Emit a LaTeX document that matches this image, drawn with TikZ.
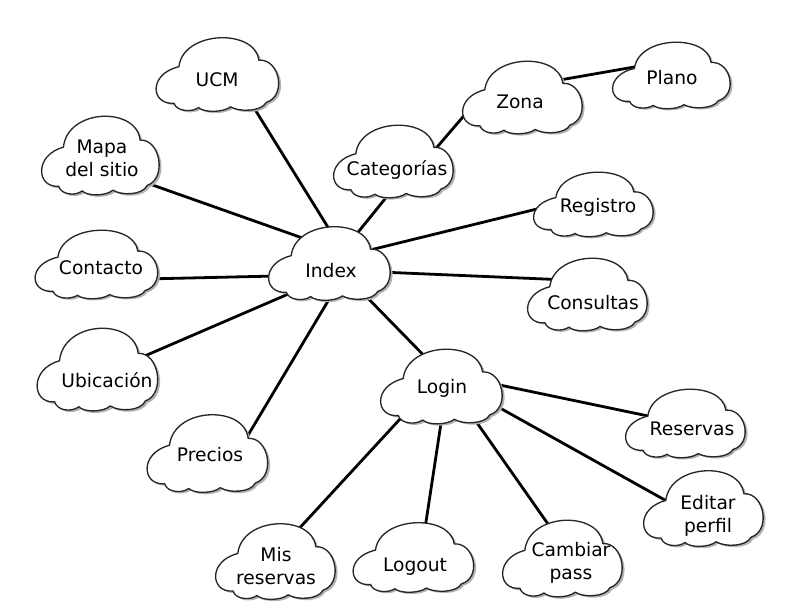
\documentclass[tikz,border=0pt]{standalone}
\usepackage{fontspec}
\setmainfont{DejaVu Sans}
\usetikzlibrary{calc,backgrounds}

\newcommand{\formanube}{(-0.7,-0.8) .. controls (-1.08,-0.85) and (-1.12,0.0) .. (-0.62,0.2)
  .. controls (-0.55,1.2) and (0.62,1.25) .. (0.68,0.38)
  .. controls (1.02,0.42) and (1.14,-0.6) .. (0.8,-0.78)
  .. controls (0.72,-1.04) and (0.35,-1.04) .. (0.22,-0.9)
  .. controls (0.1,-1.06) and (-0.22,-1.06) .. (-0.3,-0.92)
  .. controls (-0.42,-1.06) and (-0.66,-1.02) .. (-0.7,-0.8) -- cycle}

\tikzset{
  nube/.pic={
    \fill[black!30,shift={(0.04,-0.05)}] \formanube;
    \filldraw[fill=white,draw=black!85,line width=1pt,line join=round] \formanube;
  },
  texto/.style={font=\fontsize{14}{17.25}\selectfont,align=center,inner sep=1pt},
  enlace/.style={line width=2.1pt,line cap=round}
}

\begin{document}
\begin{tikzpicture}[x=0.75pt,y=-0.75pt]
  \useasboundingbox (0,0) rectangle (809,607);
  % nubes
  \pic[xscale=61.5,yscale=-36.5] at (217,74) {nube};
  \pic[xscale=59,yscale=-39] at (100,155) {nube};
  \pic[xscale=61.5,yscale=-34] at (96,264) {nube};
  \pic[xscale=60.5,yscale=-41] at (97,369) {nube};
  \pic[xscale=60.5,yscale=-38.5] at (207,453) {nube};
  \pic[xscale=61,yscale=-36.5] at (329,263) {nube};
  \pic[xscale=60,yscale=-36] at (393,161) {nube};
  \pic[xscale=60,yscale=-36] at (522,97) {nube};
  \pic[xscale=59,yscale=-33] at (671,75) {nube};
  \pic[xscale=60,yscale=-32] at (593,204) {nube};
  \pic[xscale=60,yscale=-36] at (587,294) {nube};
  \pic[xscale=61,yscale=-37] at (441,386) {nube};
  \pic[xscale=60,yscale=-34] at (685,423) {nube};
  \pic[xscale=60,yscale=-37.5] at (703,508) {nube};
  \pic[xscale=60,yscale=-37.5] at (275,561) {nube};
  \pic[xscale=60.5,yscale=-34.5] at (413,557) {nube};
  \pic[xscale=60,yscale=-38] at (562,558) {nube};

  % textos
  \node[texto] (ucm) at (217,80) {UCM};
  \node[texto] (mapa) at (102,158) {Mapa\\del sitio};
  \node[texto] (contacto) at (101,268) {Contacto};
  \node[texto] (ubicacion) at (107,380) {Ubicación};
  \node[texto] (precios) at (210,455) {Precios};
  \node[texto] (index) at (331,271) {Index};
  \node[texto] (categorias) at (397,170) {Categorías};
  \node[texto] (zona) at (520,102) {Zona};
  \node[texto] (plano) at (672,78) {Plano};
  \node[texto] (registro) at (598,207) {Registro};
  \node[texto] (consultas) at (593,303) {Consultas};
  \node[texto] (login) at (442,388) {Login};
  \node[texto] (reservas) at (692,429) {Reservas};
  \node[texto] (editar) at (708,516) {Editar\\perfil};
  \node[texto] (mis) at (276,566) {Mis\\reservas};
  \node[texto] (logout) at (415,567) {Logout};
  \node[texto] (cambiar) at (571,563) {Cambiar\\pass};

  % enlaces
  \begin{scope}[on background layer]
    \draw[enlace] ($(index)+(3,-34)$) -- ($(ucm)+(29,15)$);
    \draw[enlace] ($(index)+(-3,-24)$) -- ($(mapa)+(25,18)$);
    \draw[enlace] ($(index)+(-55,5)$) -- ($(contacto)+(44,11)$);
    \draw[enlace] ($(index)+(-31,18)$) -- ($(ubicacion)+(26,-19)$);
    \draw[enlace] ($(index)+(3,20)$) -- ($(precios)+(34,-13)$);
    \draw[enlace] ($(index)+(24,-35)$) -- ($(categorias)+(-4,19)$);
    \draw[enlace] ($(categorias)+(35,-17)$) -- ($(zona)+(-52,9)$);
    \draw[enlace] ($(zona)+(34,-21)$) -- ($(plano)+(-32,-12)$);
    \draw[enlace] ($(index)+(31,-19)$) -- ($(registro)+(-57,1)$);
    \draw[enlace] ($(index)+(49,1)$) -- ($(consultas)+(-25,-23)$);
    \draw[enlace] ($(index)+(25,15)$) -- ($(login)+(-3,-17)$);
    \draw[enlace] ($(login)+(48,-5)$) -- ($(reservas)+(-39,-12)$);
    \draw[enlace] ($(login)+(49,15)$) -- ($(editar)+(-36,-12)$);
    \draw[enlace] ($(login)+(-30,18)$) -- ($(mis)+(19,-33)$);
    \draw[enlace] ($(login)+(1,22)$) -- ($(logout)+(9,-32)$);
    \draw[enlace] ($(login)+(26,22)$) -- ($(cambiar)+(-9,-19)$);
  \end{scope}
\end{tikzpicture}
\end{document}
